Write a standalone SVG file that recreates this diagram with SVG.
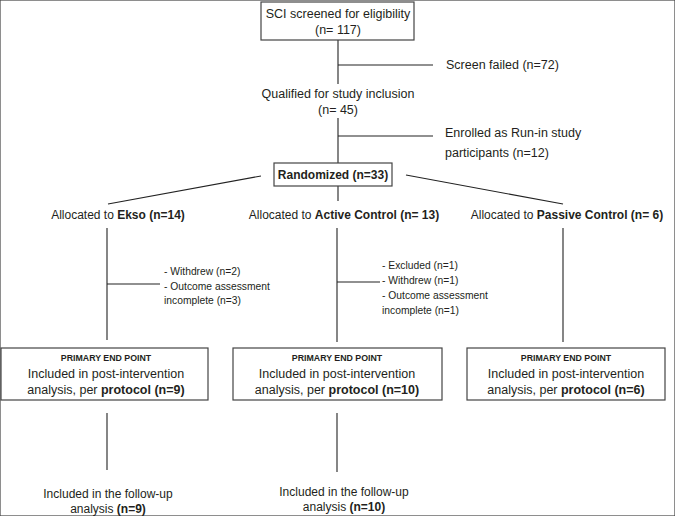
<svg xmlns="http://www.w3.org/2000/svg" width="675" height="516" viewBox="0 0 675 516">
<style>
text{font-family:"Liberation Sans",Arial,sans-serif;fill:#231f20;font-size:12px}
.c{text-anchor:middle}
.b{font-weight:bold}
.s{font-size:10.3px}
.h{font-size:8.8px;font-weight:bold}
.m{font-size:12.5px}
rect{fill:#fff;stroke:#444;stroke-width:1.2}
line{stroke:#222;stroke-width:1.1}
</style>
<rect width="675" height="516" fill="#fff" stroke="none"/>
<g id="connectors">
<line x1="338" y1="40" x2="338" y2="84"/>
<line x1="338" y1="65" x2="433" y2="65"/>
<line x1="338" y1="118" x2="338" y2="163"/>
<line x1="338" y1="136" x2="433" y2="136"/>
<line x1="261" y1="176" x2="108" y2="204"/>
<line x1="406" y1="175" x2="563" y2="204"/>
<line x1="338" y1="186" x2="338" y2="201"/>
<line x1="107" y1="228" x2="107" y2="340"/>
<line x1="107" y1="284" x2="160" y2="284"/>
<line x1="337" y1="228" x2="337" y2="342"/>
<line x1="337" y1="282" x2="380" y2="282"/>
<line x1="563" y1="228" x2="563" y2="342"/>
<line x1="107" y1="413" x2="107" y2="470"/>
<line x1="337" y1="413" x2="337" y2="472"/>
</g>
<g id="screened">
<rect x="261" y="2" width="153" height="38"/>
<text class="c m" x="338" y="18">SCI screened for eligibility</text>
<text class="c m" x="338" y="34">(n= 117)</text>
</g>
<g id="screen-failed">
<text class="m" x="446" y="69">Screen failed (n=72)</text>
</g>
<g id="qualified">
<text class="c m" x="338" y="98">Qualified for study inclusion</text>
<text class="c m" x="338" y="114">(n= 45)</text>
</g>
<g id="runin">
<text class="m" x="445" y="137">Enrolled as Run-in study</text>
<text class="m" x="445" y="157">participants (n=12)</text>
</g>
<g id="randomized">
<rect x="274" y="163" width="118" height="23"/>
<text class="c b" x="333" y="179">Randomized (n=33)</text>
</g>
<g id="alloc-ekso">
<text class="c" x="118" y="219">Allocated to <tspan class="b">Ekso (n=14)</tspan></text>
</g>
<g id="alloc-active">
<text class="c" x="344" y="219">Allocated to <tspan class="b">Active Control (n= 13)</tspan></text>
</g>
<g id="alloc-passive">
<text class="c" x="567" y="219">Allocated to <tspan class="b">Passive Control (n= 6)</tspan></text>
</g>
<g id="excl-ekso">
<text class="s" x="164" y="275">- Withdrew (n=2)</text>
<text class="s" x="164" y="290">- Outcome assessment</text>
<text class="s" x="164" y="304">incomplete (n=3)</text>
</g>
<g id="excl-active">
<text class="s" x="382" y="269">- Excluded (n=1)</text>
<text class="s" x="382" y="284">- Withdrew (n=1)</text>
<text class="s" x="382" y="299">- Outcome assessment</text>
<text class="s" x="382" y="314">incomplete (n=1)</text>
</g>
<g id="primary-ekso">
<rect x="1" y="348" width="207" height="52"/>
<text class="c h" x="106" y="361">PRIMARY END POINT</text>
<text class="c m" x="106" y="378">Included in post-intervention</text>
<text class="c m" x="106" y="394">analysis, per <tspan class="b">protocol (n=9)</tspan></text>
</g>
<g id="primary-active">
<rect x="233" y="348" width="209" height="52"/>
<text class="c h" x="337" y="361">PRIMARY END POINT</text>
<text class="c m" x="337" y="378">Included in post-intervention</text>
<text class="c m" x="337" y="394">analysis, per <tspan class="b">protocol (n=10)</tspan></text>
</g>
<g id="primary-passive">
<rect x="467" y="348" width="198" height="52"/>
<text class="c h" x="566" y="361">PRIMARY END POINT</text>
<text class="c m" x="566" y="378">Included in post-intervention</text>
<text class="c m" x="566" y="394">analysis, per <tspan class="b">protocol (n=6)</tspan></text>
</g>
<g id="followup-ekso">
<text class="c" x="108" y="498">Included in the follow-up</text>
<text class="c" x="108" y="513">analysis <tspan class="b">(n=9)</tspan></text>
</g>
<g id="followup-active">
<text class="c" x="344" y="496">Included in the follow-up</text>
<text class="c" x="344" y="511">analysis <tspan class="b">(n=10)</tspan></text>
</g>
</svg>
